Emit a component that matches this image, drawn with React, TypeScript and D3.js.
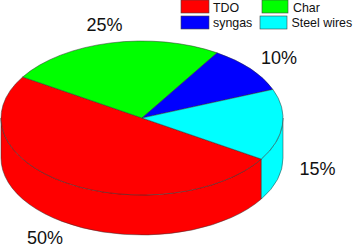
import React from "react";
import * as d3 from "d3";

const categories = ["TDO", "Char", "syngas", "Steel wires"];
const values = [50, 25, 10, 15];
const colors = ["#ff0000", "#00ff00", "#0000ff", "#00ffff"];
const percentLabels = ["50%", "25%", "10%", "15%"];

const WIDTH = 353;
const HEIGHT = 246;
const CX = 142;
const CY = 118;
const RX = 141;
const RY = 77;
const DEPTH = 40;
const START = (122.2 * Math.PI) / 180;

const LABEL_POS = [
  [45, 244],
  [104.5, 31],
  [279, 64],
  [317.5, 175],
];
const LEGEND_POS = [
  [181, 0, 28, 13],
  [262, 0, 26, 13],
  [181, 16, 28, 13],
  [260, 16, 27, 13],
];
const LEGEND_TEXT_POS = [
  [213, 12],
  [293, 12],
  [213, 27],
  [291.5, 27],
];

const px = (a: number) => CX + RX * Math.sin(a);
const py = (a: number) => CY - RY * Math.cos(a);

// the wall of the cylinder, only the part facing the viewer
const sidePath = (start: number, end: number) => {
  // slices past a full turn come back to the 0..360 range
  const turn = start >= 2 * Math.PI ? 2 * Math.PI : 0;
  const lo = Math.max(start - turn, Math.PI / 2);
  const hi = Math.min(end - turn, (3 * Math.PI) / 2);
  if (hi <= lo) return null;
  return (
    `M${px(lo)},${py(lo)}` +
    `A${RX},${RY} 0 0 1 ${px(hi)},${py(hi)}` +
    `L${px(hi)},${py(hi) + DEPTH}` +
    `A${RX},${RY} 0 0 0 ${px(lo)},${py(lo) + DEPTH}Z`
  );
};

const App = () => {
  const pie = d3
    .pie<number>()
    .sort(null)
    .startAngle(START)
    .endAngle(START + 2 * Math.PI);
  const slices = pie(values);
  const arc = d3.arc<d3.PieArcDatum<number>>().innerRadius(0).outerRadius(RX);

  return (
    <svg
      width={WIDTH}
      height={HEIGHT}
      style={{ position: "absolute", left: 0, top: 0, fontFamily: "'Liberation Sans', Arial, sans-serif" }}
    >
      {slices.map((s, i) => {
        const d = sidePath(s.startAngle, s.endAngle);
        return d ? <path key={i} d={d} fill={colors[i]} stroke="#333" strokeWidth={0.5} /> : null;
      })}
      <g transform={`translate(${CX},${CY}) scale(1,${RY / RX})`}>
        {slices.map((s, i) => (
          <path
            key={i}
            d={arc(s) as string}
            fill={colors[i]}
            stroke="#333"
            strokeWidth={0.5}
            vectorEffect="non-scaling-stroke"
          />
        ))}
      </g>
      {percentLabels.map((t, i) => (
        <text key={t} x={LABEL_POS[i][0]} y={LABEL_POS[i][1]} fontSize={18} textAnchor="middle" fill="#111">
          {t}
        </text>
      ))}
      {categories.map((c, i) => (
        <g key={c}>
          <rect
            x={LEGEND_POS[i][0]}
            y={LEGEND_POS[i][1]}
            width={LEGEND_POS[i][2]}
            height={LEGEND_POS[i][3]}
            fill={colors[i]}
            stroke="#444"
            strokeWidth={0.6}
          />
          <text x={LEGEND_TEXT_POS[i][0]} y={LEGEND_TEXT_POS[i][1]} fontSize={12.4} fill="#111">
            {c}
          </text>
        </g>
      ))}
    </svg>
  );
};

export default App;
